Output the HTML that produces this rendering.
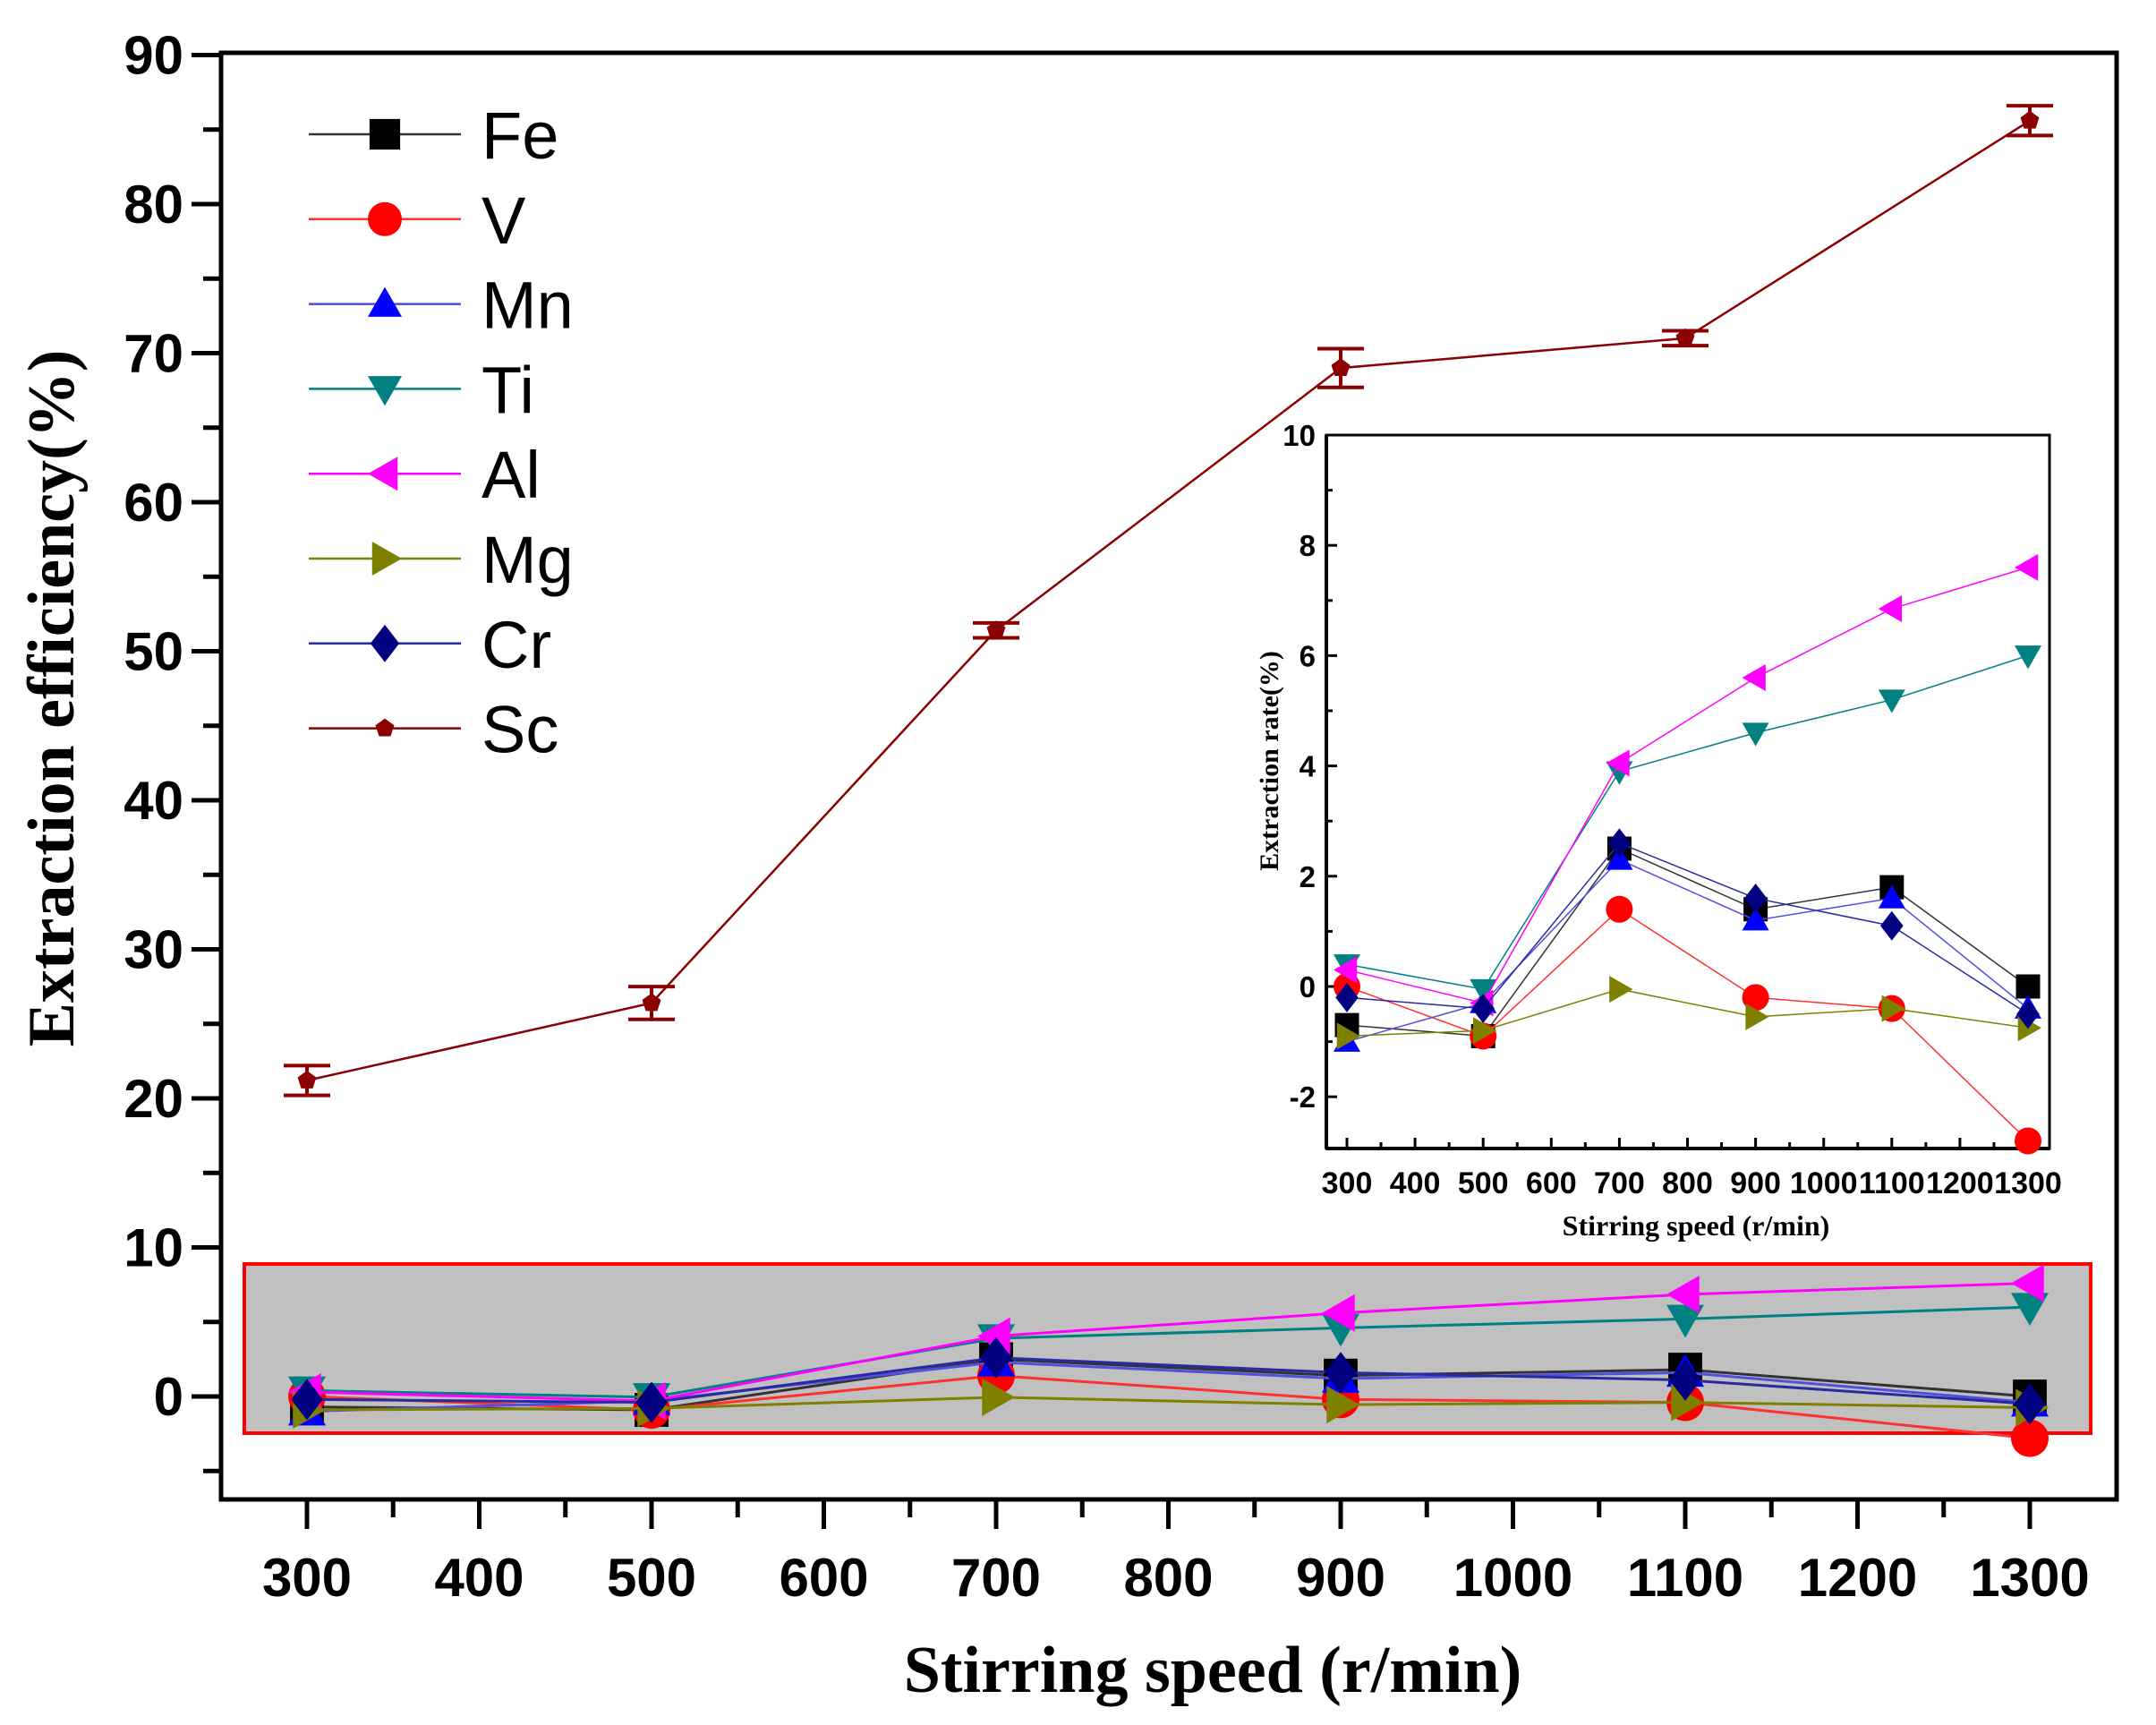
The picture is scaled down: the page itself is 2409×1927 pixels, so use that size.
<!DOCTYPE html>
<html><head><meta charset="utf-8"><style>
html,body{margin:0;padding:0;background:#fff;}
svg{display:block;}
</style></head><body>
<svg id="chart" width="2409" height="1927" viewBox="0 0 2409 1927" xmlns="http://www.w3.org/2000/svg">
<rect width="2409" height="1927" fill="#fff"/>
<g id="main"></g>
<g id="inset"></g>
<g id="legend"></g>
</svg>
<script>
const speeds = [300, 500, 700, 900, 1100, 1300];
const feVals = [-0.7, -0.9, 2.5, 1.4, 1.8, 0.0];
const vVals  = [0.0, -0.9, 1.4, -0.2, -0.4, -2.8];
const mnVals = [-1.0, -0.3, 2.3, 1.2, 1.6, -0.4];
const tiVals = [0.4, -0.05, 3.9, 4.6, 5.2, 6.0];
const alVals = [0.3, -0.3, 4.05, 5.6, 6.85, 7.6];
const mgVals = [-0.9, -0.8, -0.05, -0.55, -0.4, -0.75];
const crVals = [-0.2, -0.4, 2.6, 1.6, 1.1, -0.5];
const scVals = [21.2, 26.4, 51.4, 69.0, 71.0, 85.6];
const scErr  = [1.0, 1.1, 0.5, 1.3, 0.5, 1.0];
const mainYTicks = [0, 10, 20, 30, 40, 50, 60, 70, 80, 90];
const mainXTicks = [300, 400, 500, 600, 700, 800, 900, 1000, 1100, 1200, 1300];
const insetYTicks = [-2, 0, 2, 4, 6, 8, 10];
const insetXTicks = [300, 400, 500, 600, 700, 800, 900, 1000, 1100, 1200, 1300];

const NS = "http://www.w3.org/2000/svg";
function mk(parent, tag, attrs, text){
  const e = document.createElementNS(NS, tag);
  for (const k in attrs) e.setAttribute(k, attrs[k]);
  if (text !== undefined) e.textContent = text;
  parent.appendChild(e);
  return e;
}
const series = [
  {name:"Fe", vals:feVals, color:"#000000", line:"#333", shape:"square"},
  {name:"V", vals:vVals, color:"#ff0000", line:"#ff3030", shape:"circle"},
  {name:"Mn", vals:mnVals, color:"#0000ff", line:"#5050e0", shape:"up"},
  {name:"Ti", vals:tiVals, color:"#008080", line:"#008080", shape:"down"},
  {name:"Al", vals:alVals, color:"#ff00ff", line:"#ff00ff", shape:"left"},
  {name:"Mg", vals:mgVals, color:"#808000", line:"#808000", shape:"right"},
  {name:"Cr", vals:crVals, color:"#000080", line:"#2a2aa0", shape:"diamond"}
];
function marker(g, shape, cx, cy, s, color){
  const h = s/2;
  let el;
  if (shape==="square") el = mk(g,"rect",{x:cx-h*0.9,y:cy-h*0.9,width:s*0.9,height:s*0.9,fill:color});
  else if (shape==="circle") el = mk(g,"circle",{cx:cx,cy:cy,r:h,fill:color});
  else {
    let pts;
    if (shape==="up") pts=[[cx,cy-h],[cx+h,cy+h*0.75],[cx-h,cy+h*0.75]];
    else if (shape==="down") pts=[[cx,cy+h],[cx+h,cy-h*0.75],[cx-h,cy-h*0.75]];
    else if (shape==="left") pts=[[cx-h,cy],[cx+h*0.75,cy-h],[cx+h*0.75,cy+h]];
    else if (shape==="right") pts=[[cx+h,cy],[cx-h*0.75,cy-h],[cx-h*0.75,cy+h]];
    else if (shape==="diamond") pts=[[cx,cy-h*1.1],[cx+h*0.85,cy],[cx,cy+h*1.1],[cx-h*0.85,cy]];
    else if (shape==="pent"){ pts=[]; for(let i=0;i<5;i++){const a=-Math.PI/2+i*2*Math.PI/5; pts.push([cx+h*Math.cos(a),cy+h*Math.sin(a)]);} }
    el = mk(g,"polygon",{points:pts.map(p=>p.join(",")).join(" "),fill:color});
  }
  return el;
}

/* ---------- main plot ---------- */
const M = document.getElementById("main");
const mx = v => 343 + (v-300)*1.925;
const my = v => 1560 - v*16.65;
const L=247, R=2365, T=59, B=1675;
const hb = mk(M,"rect",{x:273,y:1412,width:2063,height:189,fill:"#c0c0c0",stroke:"#ff0000","stroke-width":4});


const fr = mk(M,"rect",{x:L,y:T,width:R-L,height:B-T,fill:"none",stroke:"#000","stroke-width":5});


mainYTicks.forEach(t=>{
  mk(M,"line",{x1:L-33,y1:my(t),x2:L,y2:my(t),stroke:"#000","stroke-width":5});
  const tl = mk(M,"text",{x:L-42,y:my(t)+21,"text-anchor":"end","font-family":"Liberation Sans, sans-serif","font-weight":"bold","font-size":60},String(t));
  
  
});
for (let v=-5; v<=85; v+=10){ mk(M,"line",{x1:L-20,y1:my(v),x2:L,y2:my(v),stroke:"#000","stroke-width":5}); }
mainXTicks.forEach(t=>{
  mk(M,"line",{x1:mx(t),y1:B,x2:mx(t),y2:B+33,stroke:"#000","stroke-width":5});
  const tl = mk(M,"text",{x:mx(t),y:1783,"text-anchor":"middle","font-family":"Liberation Sans, sans-serif","font-weight":"bold","font-size":60},String(t));
  
  
});
for (let v=350; v<=1250; v+=100){ mk(M,"line",{x1:mx(v),y1:B,x2:mx(v),y2:B+20,stroke:"#000","stroke-width":5}); }
const xt = mk(M,"text",{x:1355,y:1890,"text-anchor":"middle","font-family":"Liberation Serif, serif","font-weight":"bold","font-size":74},"Stirring speed (r/min)");


const yt = mk(M,"text",{x:0,y:0,transform:"translate(82,780) rotate(-90)","text-anchor":"middle","font-family":"Liberation Serif, serif","font-weight":"bold","font-size":74},"Extraction efficiency(%)");


series.forEach(s=>{
  const g = mk(M,"g",{});
  
  
  mk(g,"polyline",{points:speeds.map((x,i)=>mx(x)+","+my(s.vals[i])).join(" "),fill:"none",stroke:s.line,"stroke-width":3});
  speeds.forEach((x,i)=>{
    const p = marker(g,s.shape,mx(x),my(s.vals[i]),42,s.color);
    
    
  });
});
const sg = mk(M,"g",{});


mk(sg,"polyline",{points:speeds.map((x,i)=>mx(x)+","+my(scVals[i])).join(" "),fill:"none",stroke:"#8b0000","stroke-width":2.5});
speeds.forEach((x,i)=>{
  const cx=mx(x), y1=my(scVals[i]+scErr[i]), y2=my(scVals[i]-scErr[i]);
  const eb = mk(sg,"path",{d:`M${cx},${y1}V${y2}M${cx-26},${y1}H${cx+26}M${cx-26},${y2}H${cx+26}`,stroke:"#8b0000","stroke-width":4,fill:"none"});
  
  
  const p = marker(sg,"pent",cx,my(scVals[i]),22,"#8b0000");
  
  
});

/* ---------- legend ---------- */
const LG = document.getElementById("legend");
const legendItems = series.concat([{name:"Sc", color:"#8b0000", line:"#8b0000", shape:"pent"}]);
legendItems.forEach((s,i)=>{
  const y = 150 + i*94.8;
  const g = mk(LG,"g",{});
  
  
  mk(g,"line",{x1:345,y1:y,x2:515,y2:y,stroke:s.line,"stroke-width":2.5});
  marker(g,s.shape,430,y,s.shape==="pent"?22:38,s.color);
  mk(g,"text",{x:538,y:y+27,"font-family":"Liberation Sans, sans-serif","font-size":74},s.name);
});

/* ---------- inset ---------- */
const I = document.getElementById("inset");
const ix = v => 1505 + (v-300)*0.761;
const iy = v => 1102 - v*61.6;
const IL=1482, IR=2290, IT=486, IB=1283;
mk(I,"rect",{x:IL,y:IT,width:IR-IL,height:IB-IT,fill:"#fff",stroke:"#000","stroke-width":3});
mk(I,"line",{x1:IL,y1:IT,x2:IL,y2:IB,stroke:"#000","stroke-width":4});
mk(I,"line",{x1:IL,y1:IB,x2:IR,y2:IB,stroke:"#000","stroke-width":4});
insetYTicks.forEach(t=>{
  mk(I,"line",{x1:IL,y1:iy(t),x2:IL+12,y2:iy(t),stroke:"#000","stroke-width":3});
  const tl = mk(I,"text",{x:IL-12,y:iy(t)+12,"text-anchor":"end","font-family":"Liberation Sans, sans-serif","font-weight":"bold","font-size":33},String(t));
  
  
});
for (let v=-1; v<=9; v+=2){ mk(I,"line",{x1:IL,y1:iy(v),x2:IL+7,y2:iy(v),stroke:"#000","stroke-width":3}); }
insetXTicks.forEach(t=>{
  mk(I,"line",{x1:ix(t),y1:IB,x2:ix(t),y2:IB-12,stroke:"#000","stroke-width":3});
  const tl = mk(I,"text",{x:ix(t),y:1333,"text-anchor":"middle","font-family":"Liberation Sans, sans-serif","font-weight":"bold","font-size":34},String(t));
  
  
});
for (let v=350; v<=1250; v+=100){ mk(I,"line",{x1:ix(v),y1:IB,x2:ix(v),y2:IB-7,stroke:"#000","stroke-width":3}); }
const ixt = mk(I,"text",{x:1895,y:1380,"text-anchor":"middle","font-family":"Liberation Serif, serif","font-weight":"bold","font-size":32},"Stirring speed (r/min)");


const iyt = mk(I,"text",{x:0,y:0,transform:"translate(1428,850) rotate(-90)","text-anchor":"middle","font-family":"Liberation Serif, serif","font-weight":"bold","font-size":30},"Extraction rate(%)");


series.forEach(s=>{
  const g = mk(I,"g",{});
  
  
  mk(g,"polyline",{points:speeds.map((x,i)=>ix(x)+","+iy(s.vals[i])).join(" "),fill:"none",stroke:s.line,"stroke-width":1.5});
  speeds.forEach((x,i)=>{
    const p = marker(g,s.shape,ix(x),iy(s.vals[i]),30,s.color);
    
    
  });
});
</script>
</body></html>
